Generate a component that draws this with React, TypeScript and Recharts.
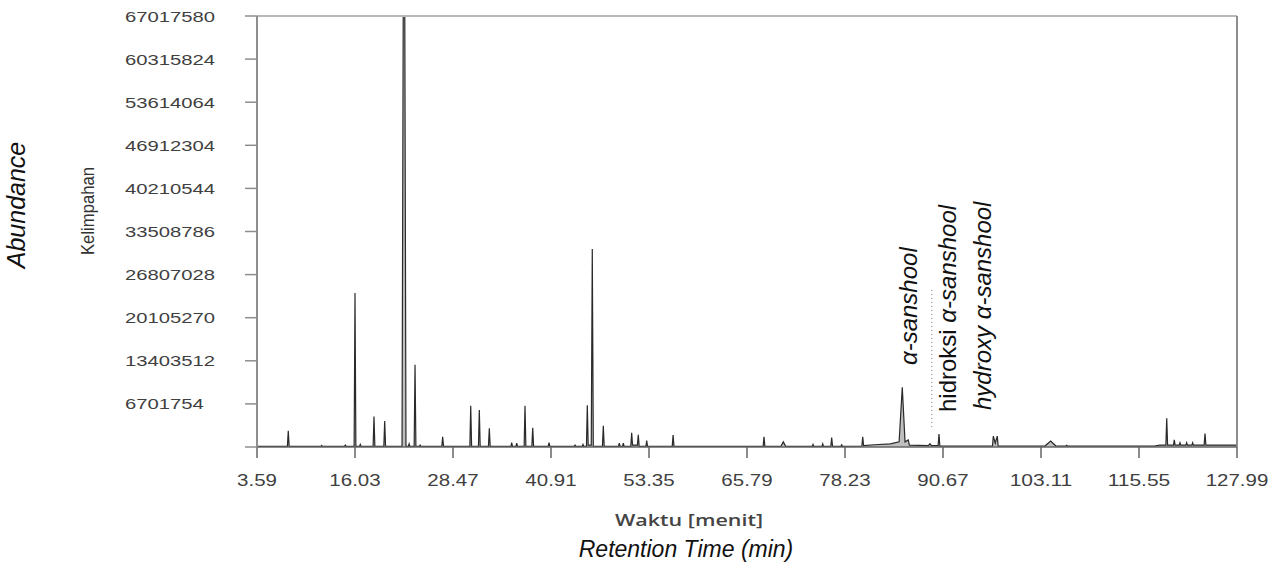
import { Area, ComposedChart, ReferenceLine, XAxis, YAxis } from "recharts";

// retention time (min) and abundance (millions)
const retentionTime = [
  3.59, 7.45, 7.56, 7.67, 11.7, 11.8, 11.9, 14.7, 14.8, 14.9,
  15.92, 16.03, 16.14, 16.6, 16.7, 16.8, 18.33, 18.44, 18.55, 19.69, 19.8, 19.91,
  22.0, 22.15, 22.35, 22.5, 22.8, 22.9, 23.0, 23.54, 23.65, 23.76, 24.2, 24.3, 24.4,
  27.05, 27.16, 27.27, 30.61, 30.72, 30.83, 31.7, 31.81, 31.92, 32.97, 33.08, 33.19,
  35.82, 35.92, 36.02, 36.46, 36.56, 36.66, 37.5, 37.61, 37.72, 38.48, 38.59, 38.7,
  40.56, 40.66, 40.76, 43.86, 43.96, 44.06, 44.87, 44.97, 45.07,
  45.41, 45.52, 45.63, 46.02, 46.15, 46.28, 47.44, 47.55, 47.66,
  49.48, 49.58, 49.68, 49.99, 50.09, 50.19, 51.04, 51.15, 51.26, 51.88, 51.99, 52.1,
  52.96, 53.06, 53.16, 56.3, 56.41, 56.52, 67.84, 67.95, 68.06, 70.1, 70.4, 70.7,
  74.07, 74.17, 74.27, 75.3, 75.4, 75.5, 76.43, 76.54, 76.65, 77.71, 77.81, 77.91,
  80.37, 80.48, 80.59, 82.0, 84.0, 85.1, 85.5, 85.85, 86.26, 86.4,
  88.8, 89.02, 89.2, 90.05, 90.16, 90.27, 96.95, 97.06, 97.3, 97.56, 97.67,
  103.6, 104.34, 105.0, 106.27, 106.37, 106.47,
  117.5, 118.2, 118.96, 119.07, 119.18, 119.93, 120.03, 120.13, 120.65, 120.75, 120.85,
  121.5, 121.6, 121.7, 122.26, 122.36, 122.46, 123.82, 123.93, 124.04, 127.99,
];
const abundanceMillions = [
  0.1, 0.1, 2.54, 0.1, 0.1, 0.25, 0.1, 0.1, 0.3, 0.1,
  0.1, 23.96, 0.1, 0.1, 0.4, 0.1, 0.1, 4.73, 0.1, 0.1, 4.05, 0.1,
  0.1, 67.0, 67.0, 0.1, 0.1, 0.5, 0.1, 0.1, 12.8, 0.1, 0.1, 0.3, 0.1,
  0.1, 1.6, 0.1, 0.1, 6.4, 0.1, 0.1, 5.77, 0.1, 0.1, 2.9, 0.1,
  0.1, 0.7, 0.1, 0.1, 0.6, 0.1, 0.1, 6.4, 0.1, 0.1, 3.0, 0.1,
  0.1, 0.67, 0.1, 0.1, 0.3, 0.1, 0.1, 0.4, 0.1,
  0.1, 6.5, 0.3, 0.3, 30.8, 0.1, 0.1, 3.3, 0.1,
  0.1, 0.6, 0.1, 0.1, 0.6, 0.1, 0.1, 2.2, 0.3, 0.3, 1.9, 0.1,
  0.1, 1.0, 0.1, 0.1, 1.87, 0.1, 0.1, 1.6, 0.1, 0.1, 0.8, 0.1,
  0.1, 0.4, 0.1, 0.1, 0.5, 0.1, 0.1, 1.45, 0.1, 0.1, 0.35, 0.1,
  0.15, 1.6, 0.2, 0.35, 0.5, 0.8, 9.3, 0.8, 1.1, 0.3,
  0.2, 0.5, 0.2, 0.2, 2.0, 0.15, 0.15, 1.7, 0.6, 1.7, 0.15,
  0.15, 0.93, 0.15, 0.15, 0.25, 0.15,
  0.15, 0.3, 0.3, 4.47, 0.3, 0.3, 1.1, 0.3, 0.3, 0.67, 0.3,
  0.3, 0.67, 0.3, 0.3, 0.67, 0.3, 0.3, 2.1, 0.3, 0.3,
];

const timeTicks = [3.59, 16.03, 28.47, 40.91, 53.35, 65.79, 78.23, 90.67, 103.11, 115.55, 127.99];
const abundanceTicks = [
  0, 6701754, 13403512, 20105270, 26807028, 33508786, 40210544, 46912304, 53614064, 60315824, 67017580,
];

const chartData = retentionTime.map((t, i) => ({ t, abundance: abundanceMillions[i] * 1e6 }));

const ARIAL = "'Liberation Sans', Arial, sans-serif";

// the scanned figure is stretched sideways, so widen the number labels to match
const stretchedWidth = (s: string, fontSize: number, k: number) => {
  let em = 0;
  for (const ch of s) em += ch === "." ? 0.278 : 0.556;
  return em * fontSize * k;
};

const YTick = (props: any) => {
  const { x, y, payload } = props;
  if (payload.value === 0) return <g />;
  const label = String(payload.value);
  return (
    <text
      x={x - 118}
      y={y}
      dy={5.5}
      textAnchor="start"
      fontFamily={ARIAL}
      fontSize={15}
      fill="#3f3f3f"
      textLength={stretchedWidth(label, 15, 1.35)}
      lengthAdjust="spacingAndGlyphs"
    >
      {label}
    </text>
  );
};

const XTick = (props: any) => {
  const { x, y, payload } = props;
  const label = payload.value.toFixed(2);
  const w = stretchedWidth(label, 16, 1.28);
  return (
    <text
      x={x - w / 2}
      y={y}
      dy={26}
      textAnchor="start"
      fontFamily={ARIAL}
      fontSize={16}
      fill="#3f3f3f"
      textLength={w}
      lengthAdjust="spacingAndGlyphs"
    >
      {label}
    </text>
  );
};

export default function App() {
  return (
    <div style={{ position: "absolute", left: 0, top: 0, width: 1279, height: 569, background: "#fff" }}>
      <ComposedChart width={1279} height={569} data={chartData} margin={{ top: 16, right: 42, bottom: 92, left: 0 }}>
        <XAxis
          dataKey="t"
          type="number"
          domain={[3.59, 127.99]}
          ticks={timeTicks}
          interval={0}
          height={30}
          tickSize={11}
          axisLine={{ stroke: "#666", strokeWidth: 1.5 }}
          tickLine={{ stroke: "#666", strokeWidth: 1.5 }}
          tick={<XTick />}
        />
        <YAxis
          type="number"
          domain={[0, 67017580]}
          ticks={abundanceTicks}
          interval={0}
          width={257}
          tickSize={12}
          allowDataOverflow
          axisLine={{ stroke: "#8e8e8e", strokeWidth: 2 }}
          tickLine={{ stroke: "#8e8e8e", strokeWidth: 1.5 }}
          tick={<YTick />}
        />
        <ReferenceLine y={67017580} stroke="#b8b8b8" strokeWidth={2} />
        <ReferenceLine x={127.99} stroke="#8e8e8e" strokeWidth={2} />
        <ReferenceLine
          segment={[
            { x: 89.24, y: 3100000 },
            { x: 89.24, y: 24700000 },
          ]}
          stroke="#777"
          strokeDasharray="1 3"
        />
        <Area
          type="linear"
          dataKey="abundance"
          stroke="#2a2a2a"
          strokeWidth={1.2}
          fill="#8a8a8a"
          fillOpacity={0.55}
          isAnimationActive={false}
          dot={false}
          activeDot={false}
        />

        <text transform="translate(25,205) rotate(-90)" textAnchor="middle" fontFamily={ARIAL} fontStyle="italic" fontSize={25} fill="#111">
          Abundance
        </text>
        <text
          transform="translate(94,211) rotate(-90)"
          textAnchor="middle"
          fontFamily={ARIAL}
          fontSize={19}
          fill="#333"
          textLength={88}
          lengthAdjust="spacingAndGlyphs"
        >
          Kelimpahan
        </text>
        <text
          x={689}
          y={526}
          textAnchor="middle"
          fontFamily="'Open Sans', sans-serif"
          fontWeight={600}
          fontSize={17}
          fill="#444"
          textLength={148}
          lengthAdjust="spacingAndGlyphs"
        >
          Waktu [menit]
        </text>
        <text x={686} y={557} textAnchor="middle" fontFamily={ARIAL} fontStyle="italic" fontSize={23} fill="#111">
          Retention Time  (min)
        </text>
        <text transform="translate(917,365) rotate(-90)" fontFamily={ARIAL} fontStyle="italic" fontSize={24} fill="#111">
          α-sanshool
        </text>
        <text transform="translate(956,412) rotate(-90)" fontFamily={ARIAL} fontSize={24} fill="#111">
          hidroksi <tspan fontStyle="italic">α-sanshool</tspan>
        </text>
        <text transform="translate(991,410) rotate(-90)" fontFamily={ARIAL} fontStyle="italic" fontSize={24} fill="#111">
          hydroxy α-sanshool
        </text>
      </ComposedChart>
    </div>
  );
}
